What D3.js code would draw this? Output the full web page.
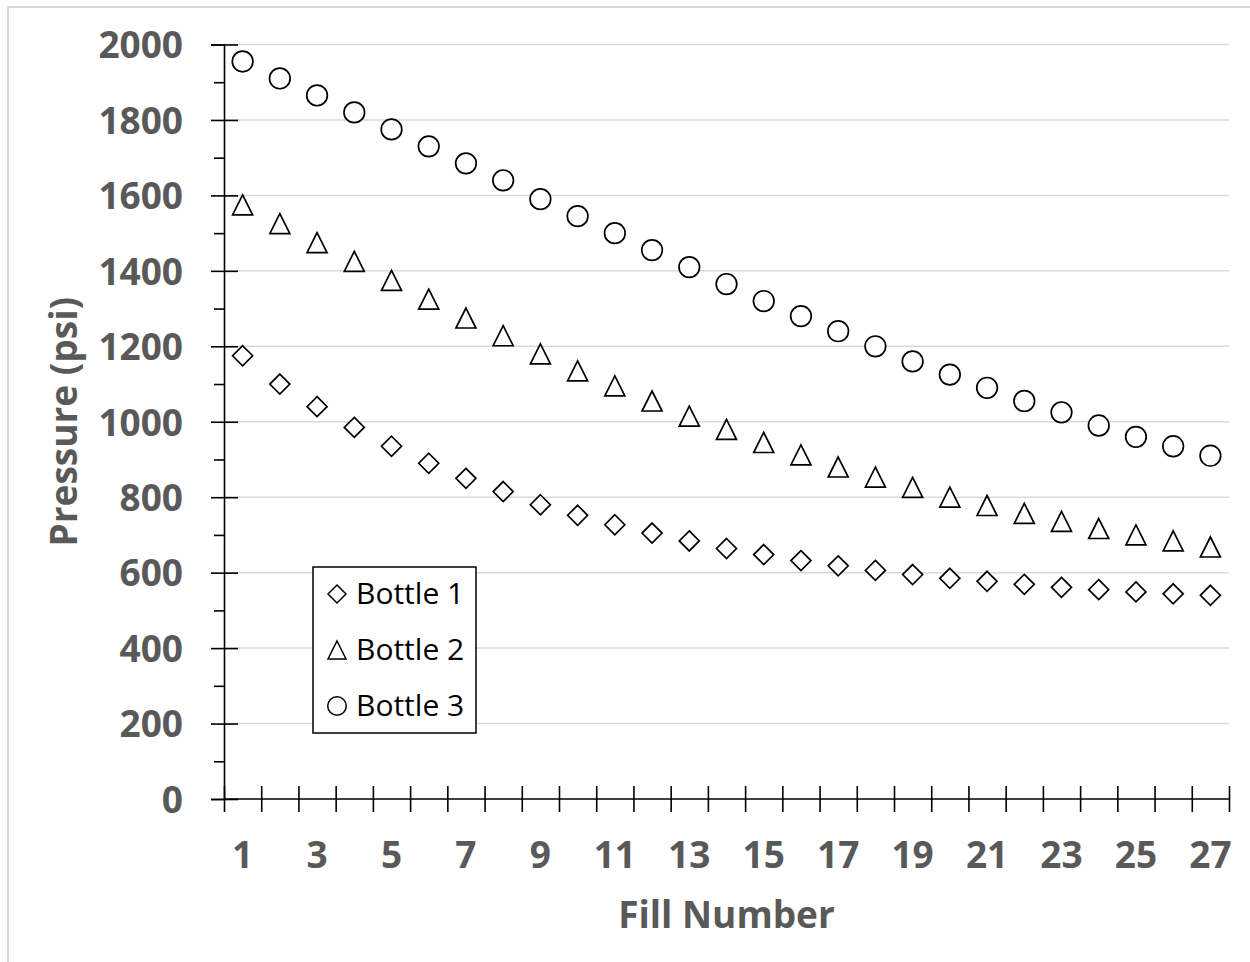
<!DOCTYPE html>
<html>
<head>
<meta charset="utf-8">
<script src="https://cdn.jsdelivr.net/npm/d3@7"></script>
<style>
  body { margin: 0; background: #fff; }
  .tick text { font-family: 'Open Sans', sans-serif; font-weight: bold; font-size: 37px; fill: #595959; }
  .title { font-family: 'Open Sans', sans-serif; font-weight: bold; font-size: 37px; fill: #595959; }
  .legend text { font-family: 'Open Sans', sans-serif; font-size: 30px; fill: #000; }
</style>
</head>
<body>
<svg width="1250" height="962"></svg>
<script>
// data
const fills = [1, 2, 3, 4, 5, 6, 7, 8, 9, 10, 11, 12, 13, 14, 15, 16, 17, 18, 19, 20, 21, 22, 23, 24, 25, 26, 27];

const bottle1 = [1175, 1100, 1040, 985, 935, 890, 850, 815, 780, 752, 727, 705, 684, 664, 648, 632, 618, 606, 595, 585, 577, 569, 561, 555, 549, 544, 540];
const bottle2 = [1575, 1525, 1475, 1425, 1375, 1325, 1275, 1228, 1180, 1135, 1095, 1055, 1015, 980, 945, 912, 880, 853, 826, 800, 778, 757, 736, 717, 700, 684, 668];
const bottle3 = [1955, 1910, 1865, 1820, 1775, 1730, 1685, 1640, 1590, 1545, 1500, 1455, 1410, 1365, 1320, 1280, 1240, 1200, 1160, 1125, 1090, 1055, 1025, 990, 960, 935, 910];

const seriesNames = ['Bottle 1', 'Bottle 2', 'Bottle 3'];
const yMajor = [0, 200, 400, 600, 800, 1000, 1200, 1400, 1600, 1800, 2000];
const yMinor = [100, 300, 500, 700, 900, 1100, 1300, 1500, 1700, 1900];
const xLabels = [1, 3, 5, 7, 9, 11, 13, 15, 17, 19, 21, 23, 25, 27];

const svg = d3.select('svg');

const plotLeft = 224, plotRight = 1229, plotTop = 44.5, plotBottom = 799;

// outer chart border
svg.append('rect')
  .attr('x', 8).attr('y', 7)
  .attr('width', 1300).attr('height', 1000)
  .attr('fill', 'none')
  .attr('stroke', '#d9d9d9')
  .attr('stroke-width', 2);

const x = d3.scaleBand().domain(fills).range([plotLeft, plotRight]);
const xEdge = d3.scaleLinear().domain([0.5, 27.5]).range([plotLeft, plotRight]);
const y = d3.scaleLinear().domain([0, 2000]).range([plotBottom, plotTop]);

// gridlines
svg.append('g')
  .selectAll('line')
  .data(yMajor.filter(v => v > 0))
  .join('line')
  .attr('x1', plotLeft).attr('x2', plotRight)
  .attr('y1', d => y(d)).attr('y2', d => y(d))
  .attr('stroke', '#d9d9d9')
  .attr('stroke-width', 1.5);

// y axis: crossing major ticks + outside minor ticks
const yOut = svg.append('g')
  .attr('transform', `translate(${plotLeft},0)`)
  .call(d3.axisLeft(y).tickValues(yMajor).tickSize(13).tickPadding(28).tickFormat(d3.format('d')));
yOut.selectAll('.tick text').attr('dy', '0.36em');

svg.append('g')
  .attr('transform', `translate(${plotLeft},0)`)
  .call(d3.axisLeft(y).tickValues(yMajor).tickSize(-14).tickFormat(''))
  .call(g => g.select('.domain').remove());

svg.append('g')
  .attr('transform', `translate(${plotLeft},0)`)
  .call(d3.axisLeft(y).tickValues(yMinor).tickSize(10).tickFormat(''))
  .call(g => g.select('.domain').remove());

// x axis: crossing ticks at category edges
svg.append('g')
  .attr('transform', `translate(0,${plotBottom})`)
  .call(d3.axisBottom(xEdge).tickValues(d3.range(0.5, 28, 1)).tickSize(13).tickFormat(''))
  .call(g => g.select('.domain').attr('d', `M${plotLeft},0H${plotRight}`));

svg.append('g')
  .attr('transform', `translate(0,${plotBottom})`)
  .call(d3.axisBottom(xEdge).tickValues(d3.range(0.5, 28, 1)).tickSize(-13).tickFormat(''))
  .call(g => g.select('.domain').remove());

svg.append('g')
  .attr('transform', `translate(0,${plotBottom})`)
  .call(d3.axisBottom(x).tickValues(xLabels).tickSize(0).tickPadding(43))
  .call(g => g.select('.domain').remove());

svg.selectAll('.domain, .tick line')
  .attr('stroke', '#000')
  .attr('stroke-width', 1.6);

// axis titles
svg.append('text')
  .attr('class', 'title')
  .attr('x', (plotLeft + plotRight) / 2)
  .attr('y', 928)
  .attr('text-anchor', 'middle')
  .text('Fill Number');

svg.append('text')
  .attr('class', 'title')
  .attr('transform', `translate(77,${(plotTop + plotBottom) / 2}) rotate(-90)`)
  .attr('text-anchor', 'middle')
  .text('Pressure (psi)');

// marker shapes (Excel style)
const diamond = {
  draw(ctx, s) {
    ctx.moveTo(0, -s); ctx.lineTo(s, 0); ctx.lineTo(0, s); ctx.lineTo(-s, 0); ctx.closePath();
  }
};
const triangle = {
  draw(ctx, s) {
    ctx.moveTo(0, -s); ctx.lineTo(s, s); ctx.lineTo(-s, s); ctx.closePath();
  }
};
const circle = {
  draw(ctx, s) {
    ctx.moveTo(s, 0); ctx.arc(0, 0, s, 0, 2 * Math.PI);
  }
};

const series = [
  { name: seriesNames[0], values: bottle1, shape: diamond, size: 10 },
  { name: seriesNames[1], values: bottle2, shape: triangle, size: 10 },
  { name: seriesNames[2], values: bottle3, shape: circle, size: 10.3 }
];

series.forEach(s => {
  svg.append('g')
    .selectAll('path')
    .data(s.values)
    .join('path')
    .attr('transform', (d, i) => `translate(${x(fills[i]) + x.bandwidth() / 2},${y(d)})`)
    .attr('d', d3.symbol(s.shape, s.size))
    .attr('fill', '#fff')
    .attr('stroke', '#000')
    .attr('stroke-width', 1.7);
});

// legend
const legend = svg.append('g').attr('class', 'legend');

legend.append('rect')
  .attr('x', 313).attr('y', 567)
  .attr('width', 163).attr('height', 166)
  .attr('fill', '#fff')
  .attr('stroke', '#000')
  .attr('stroke-width', 1.5);

const items = legend.selectAll('g.item')
  .data(series)
  .join('g')
  .attr('class', 'item')
  .attr('transform', (d, i) => `translate(337,${594 + i * 56})`);

items.append('path')
  .attr('d', d => d3.symbol(d.shape, d.size * 0.9)())
  .attr('fill', '#fff')
  .attr('stroke', '#000')
  .attr('stroke-width', 1.5);

items.append('text')
  .attr('x', 19)
  .attr('y', 10)
  .text(d => d.name);
</script>
</body>
</html>
